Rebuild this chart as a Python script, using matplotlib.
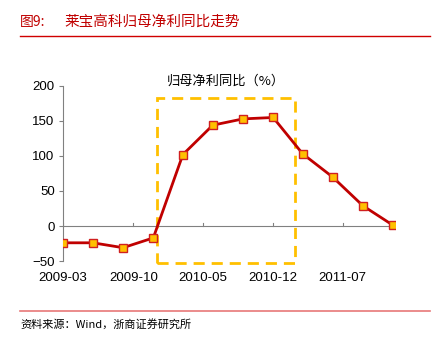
import pandas as pd
import matplotlib.pyplot as plt
import matplotlib.dates as mdates
from matplotlib.patches import Rectangle

plt.rcParams['font.family'] = ['Liberation Sans', 'Noto Sans CJK SC']

# quarterly report dates and YoY growth of net profit attributable to parent (%)
dates = pd.to_datetime(['2009-03-31', '2009-06-30', '2009-09-30', '2009-12-31',
                        '2010-03-31', '2010-06-30', '2010-09-30', '2010-12-31',
                        '2011-03-31', '2011-06-30', '2011-09-30', '2011-12-31'])
growth = [-24, -24, -31, -17, 102, 144, 153, 155, 103, 70, 29, 1]
tick_dates = pd.to_datetime(['2009-03-31', '2009-10-31', '2010-05-31', '2010-12-31', '2011-07-31'])
tick_labels = ['2009-03', '2009-10', '2010-05', '2010-12', '2011-07']
# highlighted period (dashed box)
box_start, box_end = pd.Timestamp('2010-01-11'), pd.Timestamp('2011-03-08')
box_low, box_high = -53, 183

fig = plt.figure(figsize=(4.39, 3.38), dpi=100)
ax = fig.add_axes([0.1435, 0.2278, 0.7563, 0.5178])

ax.plot(dates, growth, color='#C00000', lw=2, marker='s', ms=6,
        mfc='#FFC000', mec='#D02020', mew=1, zorder=3)

x0, x1 = mdates.date2num(box_start), mdates.date2num(box_end)
ax.add_patch(Rectangle((x0, box_low), x1 - x0, box_high - box_low, fill=False,
                       ec='#FFC000', lw=2, ls=(0, (4, 2.5)), clip_on=False, zorder=2))

ax.set_ylim(-50, 200)
ax.set_yticks([-50, 0, 50, 100, 150, 200])
ax.set_xlim(dates[0], dates[-1] + pd.Timedelta(days=6))
ax.set_xticks(tick_dates)
ax.set_xticklabels(tick_labels)

for s in ['top', 'right', 'bottom']:
    ax.spines[s].set_visible(False)
ax.spines['left'].set_color('#808080')
ax.spines['left'].set_linewidth(0.8)
ax.axhline(0, color='#808080', lw=0.8, zorder=1)
ax.tick_params(axis='y', length=3, color='#808080', labelsize=9.5, pad=3)
ax.tick_params(axis='x', length=0, labelsize=9.5, pad=8)
# x tick marks sit on the zero line, pointing up
for d in tick_dates:
    ax.plot([d, d], [0, 4], color='#808080', lw=0.8, zorder=1)

ax.text(0.49, 1.025, '归母净利同比（%）', transform=ax.transAxes, ha='center', va='center',
        fontsize=9.5, family=['Noto Sans CJK SC'])

# report header and footer
fig.text(0.046, 0.935, '图9:', color='#C00000', fontsize=10, va='center',
         family=['Noto Sans CJK SC'])
fig.text(0.146, 0.935, '莱宝高科归母净利同比走势', color='#C00000', fontsize=10.5, va='center',
         family=['Noto Sans CJK SC'])
fig.add_artist(plt.Line2D([0.046, 0.98], [0.893, 0.893], color='#D00000', lw=1))
fig.add_artist(plt.Line2D([0.046, 0.98], [0.079, 0.079], color='#E87878', lw=1.2))
fig.text(0.046, 0.041, '资料来源：Wind，浙商证券研究所', fontsize=8, va='center',
         family=['Noto Sans CJK SC'])

fig.savefig('out.png', dpi=100)
